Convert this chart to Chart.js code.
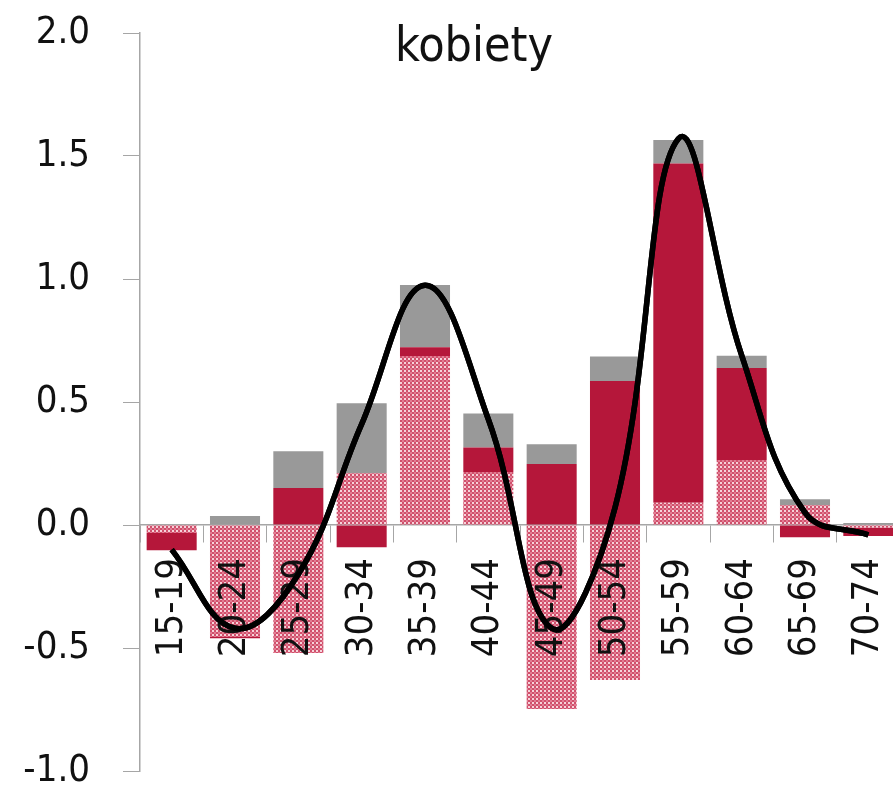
<!DOCTYPE html>
<html>
<head>
<meta charset="utf-8">
<script src="https://cdn.jsdelivr.net/npm/chart.js@4.4.1/dist/chart.umd.min.js"></script>
<style>
  html, body { margin: 0; padding: 0; background: #fff; overflow: hidden; }
  #wrap { width: 900px; height: 792px; position: relative; }
</style>
</head>
<body>
<div id="wrap"><canvas id="myChart"></canvas></div>
<script>
const labels = ["15-19", "20-24", "25-29", "30-34", "35-39", "40-44", "45-49", "50-54", "55-59", "60-64", "65-69", "70-74"];
const hatched = [-0.033, -0.455, -0.52, 0.21, 0.687, 0.215, -0.748, -0.63, 0.09, 0.264, 0.08, -0.01];
const crimson = [-0.07, -0.005, 0.15, -0.09, 0.036, 0.10, 0.248, 0.585, 1.38, 0.374, -0.05, -0.035];
const gray = [0, 0.037, 0.15, 0.285, 0.253, 0.138, 0.08, 0.10, 0.095, 0.05, 0.025, 0.008];
const total = [-0.1, -0.42, -0.2, 0.41, 0.975, 0.43, -0.42, 0.07, 1.57, 0.69, 0.05, -0.04];
const yTicks = [-1.0, -0.5, 0.0, 0.5, 1.0, 1.5, 2.0];

const FONT = "'DejaVu Sans Condensed', 'Liberation Sans Narrow', 'Roboto', sans-serif";

// pink checkered fill
function makePattern() {
  const c = document.createElement('canvas');
  c.width = 4; c.height = 4;
  const g = c.getContext('2d');
  g.fillStyle = '#f6d3da';
  g.fillRect(0, 0, 4, 4);
  g.fillStyle = '#d0506c';
  g.fillRect(0, 0, 2, 2);
  g.fillRect(2, 2, 2, 2);
  g.fillStyle = '#e27d93';
  g.fillRect(2, 0, 2, 2);
  return g.createPattern(c, 'repeat');
}

const titlePlugin = {
  id: 'titleText',
  afterDraw(chart) {
    const ctx = chart.ctx;
    // line goes over the axis labels, like the original
    chart.getDatasetMeta(0).controller.draw();
    ctx.save();
    ctx.font = "48px " + FONT;
    ctx.fillStyle = '#111';
    ctx.textAlign = 'center';
    ctx.textBaseline = 'alphabetic';
    ctx.fillText('kobiety', 474, 61);
    ctx.restore();
  }
};

const data = {
  labels: labels,
  datasets: [
    {
      type: 'line',
      label: 'suma',
      data: total,
      borderColor: '#000',
      borderWidth: 5.5,
      pointRadius: 0,
      tension: 0.4,
      fill: false,
      order: 0,
    },
    {
      label: 'a',
      data: hatched,
      backgroundColor: makePattern(),
      stack: 's',
      order: 1,
    },
    {
      label: 'b',
      data: crimson,
      backgroundColor: '#b5173a',
      stack: 's',
      order: 1,
    },
    {
      label: 'c',
      data: gray,
      backgroundColor: '#999999',
      stack: 's',
      order: 1,
    },
  ],
};

const config = {
  type: 'bar',
  data: data,
  options: {
    responsive: true,
    maintainAspectRatio: false,
    animation: false,
    layout: { padding: { top: 33, right: 0, bottom: 21, left: 0 } },
    datasets: {
      bar: { barPercentage: 0.79, categoryPercentage: 1.0 },
    },
    plugins: {
      legend: { display: false },
      tooltip: { enabled: false },
    },
    scales: {
      x: {
        stacked: true,
        position: { y: 0 },
        offset: true,
        afterFit(scale) {
          scale.paddingLeft = 0;
          scale.paddingRight = 0;
        },
        grid: {
          display: true,
          drawOnChartArea: false,
          drawTicks: true,
          tickLength: 17,
          color: '#a6a6a6',
          offset: true,
        },
        border: { display: true, color: '#a6a6a6', width: 1.5 },
        ticks: {
          z: 1,
          minRotation: 90,
          maxRotation: 90,
          autoSkip: false,
          padding: 16,
          color: '#111',
          font: { size: 38, family: FONT },
        },
      },
      y: {
        stacked: true,
        min: -1,
        max: 2,
        afterFit(scale) {
          scale.width = 140;
          scale.paddingTop = 0;
          scale.paddingBottom = 0;
        },
        afterBuildTicks(scale) { scale.ticks = yTicks.map(v => ({ value: v })); },
        grid: {
          drawOnChartArea: false,
          drawTicks: true,
          tickLength: 17,
          color: '#a6a6a6',
        },
        border: { display: true, color: '#a6a6a6', width: 1.5 },
        ticks: {
          padding: 33,
          color: '#111',
          font: { size: 38, family: FONT },
          callback: (v) => Number(v).toFixed(1),
        },
      },
    },
  },
  plugins: [titlePlugin],
};

const myChart = new Chart(document.getElementById('myChart'), config);
</script>
</body>
</html>
